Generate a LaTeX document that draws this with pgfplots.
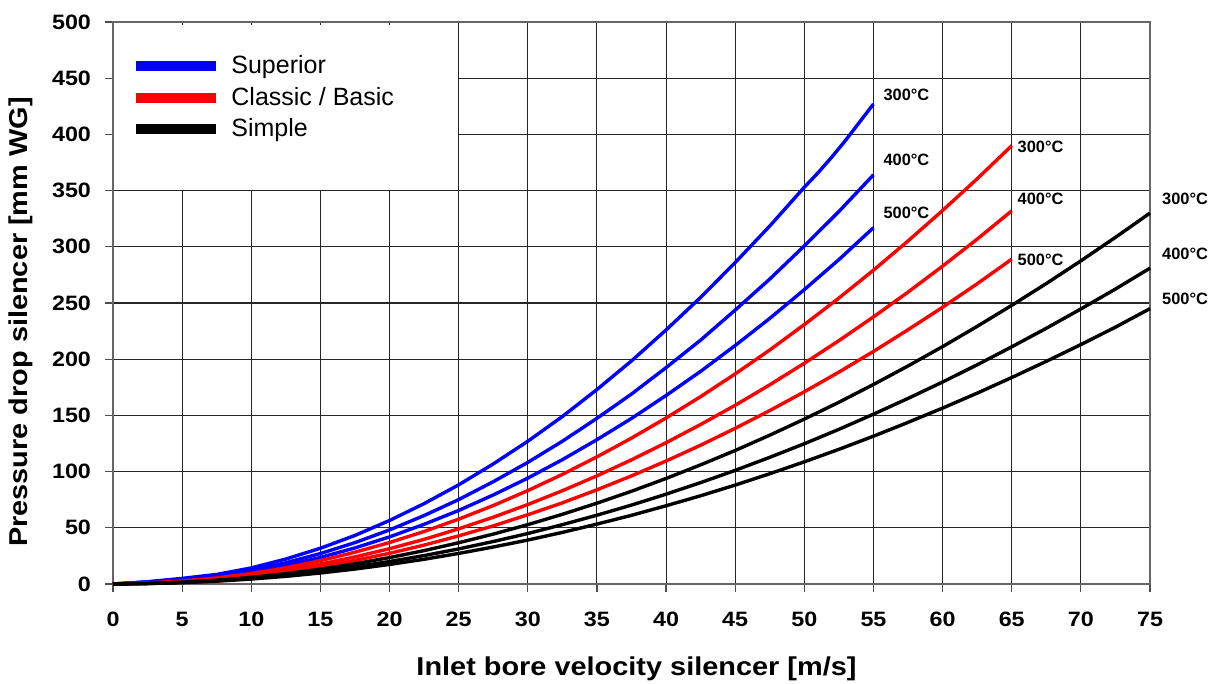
\documentclass[border=0pt]{standalone}
\usepackage{pgfplots}
\pgfplotsset{compat=1.18}
\usepackage{fontspec}
\setmainfont{Liberation Sans}
\newfontfamily\widefont[FakeStretch=1.12]{Liberation Sans}
\begin{document}
\begin{tikzpicture}
\begin{axis}[
  name=ax,
  scale only axis,
  width=518.5pt, height=281pt,
  xmin=0, xmax=75, ymin=0, ymax=500,
  xtick={0,5,...,75}, ytick={0,50,...,500},
  grid=major,
  major grid style={black!85, line width=0.55pt},
  axis line style={black!60, line width=0.7pt},
  tick pos=left, tick align=outside, major tick length=4pt,
  tick style={black!70, line width=0.6pt},
  /pgf/number format/assume math mode=true,
  ticklabel style={font=\widefont\bfseries\fontsize{10.4}{12}\selectfont},
  xticklabel style={yshift=-6.5pt},
  yticklabel style={xshift=-3.5pt},
  xlabel={Inlet bore velocity silencer [m/s]},
  ylabel={Pressure drop silencer [mm WG]},
  every axis x label/.style={at={(axis description cs:0.5,0)},anchor=center,xshift=2.5pt,yshift=-42.5pt,font=\widefont\bfseries\fontsize{12.9}{14}\selectfont},
  every axis y label/.style={at={(axis description cs:0,0.5)},xshift=-46pt,yshift=-9.5pt,anchor=center,rotate=90,font=\widefont\bfseries\fontsize{12.9}{14}\selectfont},
  clip=false,
  legend style={draw=none, fill=none, at={(axis description cs:0,1)}, anchor=north west, xshift=9pt, yshift=-14.5pt,
    font=\fontsize{12.5}{14}\selectfont, row sep=1.3pt, inner sep=0pt},
  legend cell align=left,
  legend image code/.code={\draw[line width=5pt,#1] (0pt,0pt) -- (40pt,0pt);},
  every axis plot/.append style={line width=1.7pt, line join=round, no markers},
]
\fill[white] (axis cs:0.06,350.6) rectangle (axis cs:24.93,497.5);
\addlegendimage{blue}
\addlegendentry{\hspace{3pt}Superior}
\addlegendimage{red}
\addlegendentry{\hspace{3pt}Classic / Basic}
\addlegendimage{black}
\addlegendentry{\hspace{3pt}Simple}

% Superior
\addplot[blue, forget plot] coordinates {(0,0) (2.5,2) (5,5) (7.5,8.5) (10,14.3) (12.5,22.2) (15,31.8) (17.5,43.2) (20,56.5) (22.5,71.5) (25,88.2) (27.5,106.8) (30,127) (32.5,149) (35,173) (37.5,198.5) (40,226) (42.5,255) (45,286) (47.5,318.5) (50,353) (51,366) (52,380) (53,395) (54,411) (55,427)};
\addplot[blue, forget plot] coordinates {(0,0) (2.5,1.7) (5,4.3) (7.5,7.2) (10,12.2) (12.5,18.9) (15,27.1) (17.5,36.8) (20,48.1) (22.5,60.9) (25,75.1) (27.5,91) (30,108.2) (32.5,127) (35,147.4) (37.5,169) (40,192.5) (42.5,217) (45,243.7) (47.5,271.3) (50,300.8) (52.5,331.4) (55,364)};
\addplot[blue, forget plot] coordinates {(0,0) (2.5,1.5) (5,3.7) (7.5,6.3) (10,10.6) (12.5,16.5) (15,23.6) (17.5,32.1) (20,41.9) (22.5,53.1) (25,65.4) (27.5,79.2) (30,94.2) (32.5,110.6) (35,128.4) (37.5,147.3) (40,167.7) (42.5,189.2) (45,212.2) (47.5,236.3) (50,261.9) (52.5,288.6) (55,317)};
% Classic / Basic
\addplot[red, forget plot] coordinates {(0,0) (2.5,0.9) (5,2.6) (7.5,5.4) (10,9.3) (12.5,14.4) (15,20.8) (17.5,28.3) (20,36.9) (22.5,46.7) (25,57.7) (27.5,69.8) (30,83.1) (32.5,97.5) (35,113.1) (37.5,129.8) (40,147.7) (42.5,166.7) (45,186.9) (47.5,208.2) (50,230.8) (52.5,254.4) (55,279.2) (57.5,305.2) (60,332.3) (62.5,360.5) (65,390)};
\addplot[red, forget plot] coordinates {(0,0) (2.5,0.8) (5,2.2) (7.5,4.6) (10,7.9) (12.5,12.3) (15,17.7) (17.5,24.1) (20,31.4) (22.5,39.7) (25,49.1) (27.5,59.4) (30,70.7) (32.5,83) (35,96.2) (37.5,110.5) (40,125.7) (42.5,141.9) (45,159) (47.5,177.2) (50,196.4) (52.5,216.5) (55,237.6) (57.5,259.7) (60,282.8) (62.5,306.8) (65,332)};
\addplot[red, forget plot] coordinates {(0,0) (2.5,0.7) (5,1.9) (7.5,4) (10,6.9) (12.5,10.7) (15,15.4) (17.5,21) (20,27.3) (22.5,34.6) (25,42.8) (27.5,51.7) (30,61.6) (32.5,72.2) (35,83.8) (37.5,96.2) (40,109.4) (42.5,123.5) (45,138.5) (47.5,154.3) (50,171) (52.5,188.5) (55,206.9) (57.5,226.2) (60,246.2) (62.5,267.1) (65,289)};
% Simple
\addplot[black, forget plot] coordinates {(0,0) (2.5,0.5) (5,1.6) (7.5,3.4) (10,5.9) (12.5,9.2) (15,13.2) (17.5,18) (20,23.5) (22.5,29.7) (25,36.7) (27.5,44.4) (30,52.8) (32.5,62) (35,71.9) (37.5,82.5) (40,93.9) (42.5,106) (45,118.8) (47.5,132.4) (50,146.7) (52.5,161.7) (55,177.5) (57.5,194) (60,211.2) (62.5,229.2) (65,247.9) (67.5,267.3) (70,287.5) (72.5,308.4) (75,330)};
\addplot[black, forget plot] coordinates {(0,0) (2.5,0.4) (5,1.4) (7.5,2.9) (10,5) (12.5,7.8) (15,11.2) (17.5,15.3) (20,20) (22.5,25.3) (25,31.2) (27.5,37.8) (30,44.9) (32.5,52.8) (35,61.2) (37.5,70.2) (40,79.9) (42.5,90.2) (45,101.1) (47.5,112.7) (50,124.8) (52.5,137.6) (55,151.1) (57.5,165.1) (60,179.7) (62.5,195) (65,211) (67.5,227.5) (70,244.7) (72.5,262.4) (75,281)};
\addplot[black, forget plot] coordinates {(0,0) (2.5,0.4) (5,1.2) (7.5,2.5) (10,4.4) (12.5,6.8) (15,9.8) (17.5,13.3) (20,17.4) (22.5,22) (25,27.2) (27.5,32.9) (30,39.1) (32.5,45.9) (35,53.3) (37.5,61.1) (40,69.6) (42.5,78.5) (45,88) (47.5,98.1) (50,108.7) (52.5,119.8) (55,131.5) (57.5,143.8) (60,156.5) (62.5,169.8) (65,183.7) (67.5,198.1) (70,213) (72.5,228.5) (75,245)};

\begin{scope}[every node/.style={anchor=west, inner sep=0pt, font=\bfseries\fontsize{8.2}{9}\selectfont}]
\node at (axis cs:55.7,435) {300°C};
\node at (axis cs:55.7,377) {400°C};
\node at (axis cs:55.7,330.5) {500°C};
\node at (axis cs:65.4,388.5) {300°C};
\node at (axis cs:65.4,342.5) {400°C};
\node at (axis cs:65.4,288) {500°C};
\node at (axis cs:75.85,342.5) {300°C};
\node at (axis cs:75.85,294) {400°C};
\node at (axis cs:75.85,254) {500°C};
\end{scope}
\end{axis}
\pgfresetboundingbox
\path ([xshift=-56.5pt, yshift=-50pt]ax.south west) rectangle ([xshift=32pt, yshift=11pt]ax.north east);
\end{tikzpicture}
\end{document}
